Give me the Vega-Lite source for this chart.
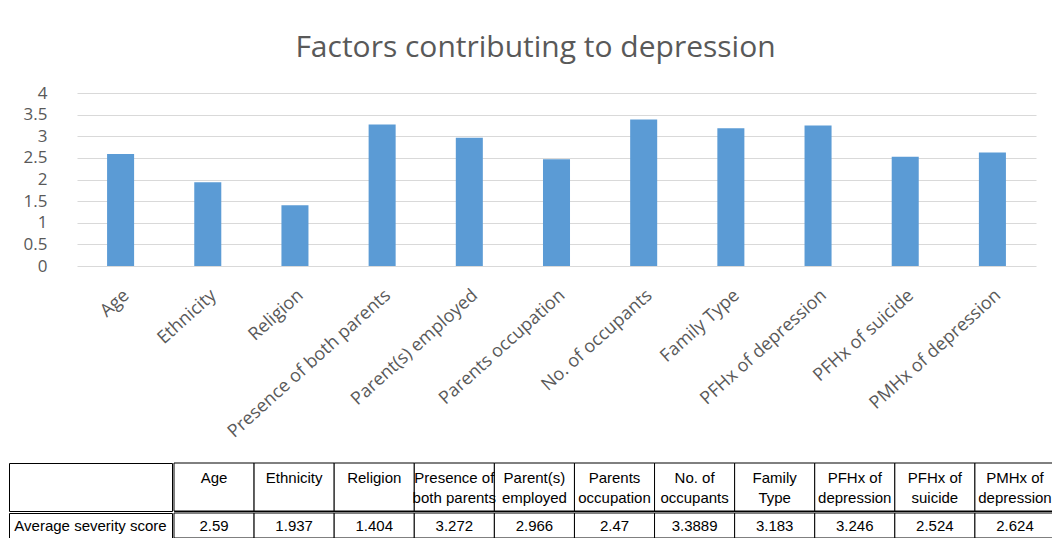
{
  "$schema": "https://vega.github.io/schema/vega-lite/v6.json",
  "padding": {"left": 8, "top": 33, "right": 0, "bottom": 0},
  "background": "white",
  "spacing": 21,
  "config": {"view": {"stroke": null}, "font": "Open Sans"},
  "datasets": {
    "d": [
      {"factor": "Age", "header": "Age", "score": 2.59},
      {"factor": "Ethnicity", "header": "Ethnicity", "score": 1.937},
      {"factor": "Religion", "header": "Religion", "score": 1.404},
      {"factor": "Presence of both parents", "header": "Presence of|both parents", "score": 3.272},
      {"factor": "Parent(s) employed", "header": "Parent(s)|employed", "score": 2.966},
      {"factor": "Parents occupation", "header": "Parents|occupation", "score": 2.47},
      {"factor": "No. of occupants", "header": "No. of|occupants", "score": 3.3889},
      {"factor": "Family Type", "header": "Family|Type", "score": 3.183},
      {"factor": "PFHx of depression", "header": "PFHx of|depression", "score": 3.246},
      {"factor": "PFHx of suicide", "header": "PFHx of|suicide", "score": 2.524},
      {"factor": "PMHx of depression", "header": "PMHx of|depression", "score": 2.624}
    ]
  },
  "vconcat": [
    {
      "width": 1027,
      "height": 173,
      "title": {"text": "Factors contributing to depression", "fontSize": 30, "font": "Open Sans", "fontWeight": "normal", "color": "#595959", "offset": 21, "anchor": "middle", "dx": 13},
      "data": {"name": "d"},
      "mark": {"type": "bar", "color": "#5B9BD5"},
      "encoding": {
        "x": {
          "field": "factor", "type": "nominal", "sort": null,
          "scale": {"paddingInner": 0.69, "paddingOuter": 0.345, "range": [68, 1027]},
          "axis": {"title": null, "labelAngle": -42, "labelFontSize": 18, "labelFont": "Open Sans", "labelColor": "#595959", "labelLimit": 400, "ticks": false, "domain": false, "labelPadding": 20}
        },
        "y": {
          "field": "score", "type": "quantitative",
          "scale": {"domain": [0, 4]},
          "axis": {"title": null, "offset": -68, "values": [0, 0.5, 1, 1.5, 2, 2.5, 3, 3.5, 4], "format": "~g", "grid": true, "gridColor": "#d9d9d9", "domain": false, "ticks": false, "labelFontSize": 17, "labelFont": "Open Sans", "labelColor": "#595959", "labelPadding": 30}
        }
      }
    },
    {
      "columns": 2,
      "spacing": 0,
      "concat": [
        {
          "width": 163, "height": 48,
          "view": {"stroke": "black", "strokeWidth": 1},
          "data": {"values": [{"label": ""}]},
          "mark": {"type": "text"},
          "encoding": {"text": {"field": "label", "type": "nominal"}}
        },
        {
          "width": 881, "height": 48,
          "view": {"stroke": "black", "strokeWidth": 1},
          "data": {"name": "d"},
          "encoding": {
            "x": {"field": "factor", "type": "nominal", "sort": null, "scale": {"paddingInner": 0, "paddingOuter": 0}, "axis": null}
          },
          "layer": [
            {"mark": {"type": "rect", "fill": "white", "stroke": "black", "strokeWidth": 1}},
            {"mark": {"type": "text", "lineBreak": "|", "font": "Liberation Sans", "fontSize": 15, "color": "black", "lineHeight": 20, "dy": -9}, "encoding": {"text": {"field": "header", "type": "nominal"}}}
          ]
        },
        {
          "width": 163, "height": 25,
          "view": {"stroke": "black", "strokeWidth": 1},
          "data": {"values": [{"label": "Average severity score"}]},
          "mark": {"type": "text", "font": "Liberation Sans", "fontSize": 15, "color": "black"},
          "encoding": {"text": {"field": "label", "type": "nominal"}}
        },
        {
          "width": 881, "height": 25,
          "view": {"stroke": "black", "strokeWidth": 1},
          "data": {"name": "d"},
          "encoding": {
            "x": {"field": "factor", "type": "nominal", "sort": null, "scale": {"paddingInner": 0, "paddingOuter": 0}, "axis": null}
          },
          "layer": [
            {"mark": {"type": "rect", "fill": "white", "stroke": "black", "strokeWidth": 1}},
            {"mark": {"type": "text", "font": "Liberation Sans", "fontSize": 15, "color": "black"}, "encoding": {"text": {"field": "score", "type": "nominal"}}}
          ]
        }
      ]
    }
  ]
}
